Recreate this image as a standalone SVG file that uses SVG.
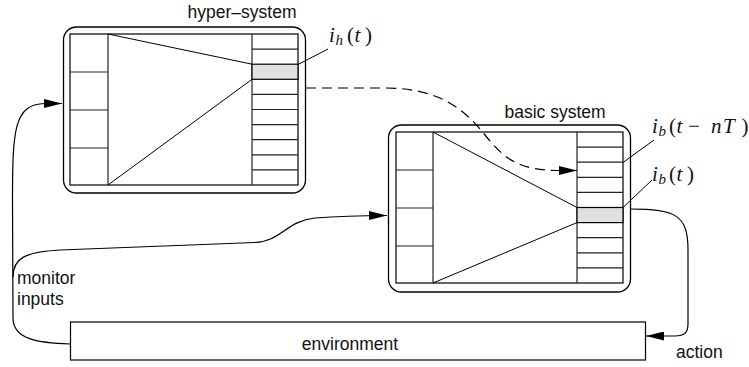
<svg xmlns="http://www.w3.org/2000/svg" width="749" height="367" viewBox="0 0 749 367">
  <style>
    .frame { fill: #fff; stroke: #000; stroke-width: 1.3; }
    .cell { fill: #fff; stroke: #000; stroke-width: 1.2; }
    .row { stroke: #222; stroke-width: 1.2; }
    .shade { fill: #e0e0e0; stroke: #000; stroke-width: 1.2; }
    .wire { fill: none; stroke: #000; stroke-width: 1.2; }
    .dash { fill: none; stroke: #000; stroke-width: 1.2; stroke-dasharray: 10 6; }
    .lead { stroke: #000; stroke-width: 1; }
    .lbl { font-family: "Liberation Sans", Arial, sans-serif; font-size: 17.5px; fill: #111; }
    .math { font-family: "Liberation Serif", "DejaVu Serif", serif; font-size: 21px; fill: #111; }
    .it { font-style: italic; }
    .sub { font-size: 15px; font-style: italic; }
  </style>
  <defs>
    <marker id="arrow" viewBox="0 0 18 9" refX="18" refY="4.5" markerWidth="18" markerHeight="9" markerUnits="userSpaceOnUse" orient="auto">
      <path d="M0,0 L18,4.5 L0,9 Z" fill="#000"/>
    </marker>
  </defs>

  <!-- hyper-system block -->
  <g id="hyper-system">
    <rect class="frame" x="63.5" y="27" width="242" height="166" rx="13"/>
    <rect class="cell" x="70" y="34" width="228" height="151"/>
    <line class="row" x1="108" y1="34" x2="108" y2="185"/>
    <line class="row" x1="70" y1="72" x2="108" y2="72"/>
    <line class="row" x1="70" y1="110" x2="108" y2="110"/>
    <line class="row" x1="70" y1="148" x2="108" y2="148"/>
    <line class="row" x1="252" y1="34" x2="252" y2="185"/>
    <rect class="shade" x="252" y="64.2" width="46" height="15.1"/>
    <g class="row">
      <line x1="252" y1="49.1" x2="298" y2="49.1"/>
      <line x1="252" y1="94.4" x2="298" y2="94.4"/>
      <line x1="252" y1="109.5" x2="298" y2="109.5"/>
      <line x1="252" y1="124.6" x2="298" y2="124.6"/>
      <line x1="252" y1="139.7" x2="298" y2="139.7"/>
      <line x1="252" y1="154.8" x2="298" y2="154.8"/>
      <line x1="252" y1="169.9" x2="298" y2="169.9"/>
    </g>
    <line class="lead" x1="108" y1="34" x2="252" y2="64.2"/>
    <line class="lead" x1="108" y1="185" x2="252" y2="79.3"/>
    <text class="lbl" x="242" y="18" text-anchor="middle">hyper–system</text>
    <line class="lead" x1="298" y1="64.5" x2="328" y2="49"/>
    <text class="math" y="41.5"><tspan class="it" x="329">i</tspan><tspan class="sub" x="335.5" dy="3">h</tspan><tspan x="347" dy="-3">(</tspan><tspan class="it" x="354.5">t</tspan><tspan x="365">)</tspan></text>
  </g>

  <!-- basic system block -->
  <g id="basic-system">
    <rect class="frame" x="388.5" y="125" width="242" height="167" rx="13"/>
    <rect class="cell" x="396" y="132" width="227" height="151"/>
    <line class="row" x1="433" y1="132" x2="433" y2="283"/>
    <line class="row" x1="396" y1="170" x2="433" y2="170"/>
    <line class="row" x1="396" y1="208" x2="433" y2="208"/>
    <line class="row" x1="396" y1="246" x2="433" y2="246"/>
    <line class="row" x1="577" y1="132" x2="577" y2="283"/>
    <rect class="shade" x="577" y="207.5" width="46" height="15.1"/>
    <g class="row">
      <line x1="577" y1="147.1" x2="623" y2="147.1"/>
      <line x1="577" y1="162.2" x2="623" y2="162.2"/>
      <line x1="577" y1="177.3" x2="623" y2="177.3"/>
      <line x1="577" y1="192.4" x2="623" y2="192.4"/>
      <line x1="577" y1="237.7" x2="623" y2="237.7"/>
      <line x1="577" y1="252.8" x2="623" y2="252.8"/>
      <line x1="577" y1="267.9" x2="623" y2="267.9"/>
    </g>
    <line class="lead" x1="433" y1="132" x2="577" y2="207.5"/>
    <line class="lead" x1="433" y1="283" x2="577" y2="222.6"/>
    <text class="lbl" x="555" y="118" text-anchor="middle">basic system</text>
    <line class="lead" x1="623" y1="162.5" x2="654" y2="140"/>
    <text class="math" y="133"><tspan class="it" x="652">i</tspan><tspan class="sub" x="658.5" dy="3">b</tspan><tspan x="669" dy="-3">(</tspan><tspan class="it" x="676.5">t</tspan><tspan x="688">−</tspan><tspan class="it" x="711">n</tspan><tspan class="it" x="723">T</tspan><tspan x="741.5">)</tspan></text>
    <line class="lead" x1="623" y1="207.5" x2="652" y2="180"/>
    <text class="math" y="181"><tspan class="it" x="652">i</tspan><tspan class="sub" x="658.5" dy="3">b</tspan><tspan x="669" dy="-3">(</tspan><tspan class="it" x="676.5">t</tspan><tspan x="687">)</tspan></text>
  </g>

  <!-- environment -->
  <g id="environment">
    <rect class="cell" x="70.5" y="322" width="575" height="38"/>
    <text class="lbl" x="350" y="350" text-anchor="middle">environment</text>
  </g>

  <!-- connectors -->
  <g id="connectors">
    <path class="wire" d="M70,344 C40,343 13,340 13,318 L12.5,200 C12.5,130 14,104 45,103.5 L62,103.5" marker-end="url(#arrow)"/>
    <path class="wire" d="M13,277 C13,258 25,252 60,250 L255,242.5 C282,241 286,221 315,218 C340,216 360,215.5 387,215.5" marker-end="url(#arrow)"/>
    <path class="wire" d="M630,209 C676,209 688,215 688,250 L688,324 C688,333 684,336 675,336 L646,336" marker-end="url(#arrow)"/>
    <path class="dash" d="M306,88 L385,88 C440,88 465,110 485,135 C505,160 520,170.5 560,170.5 L577,170.5" marker-end="url(#arrow)"/>
    <text class="lbl" x="17" y="284">monitor</text>
    <text class="lbl" x="17" y="305">inputs</text>
    <text class="lbl" x="676" y="358">action</text>
  </g>
</svg>
